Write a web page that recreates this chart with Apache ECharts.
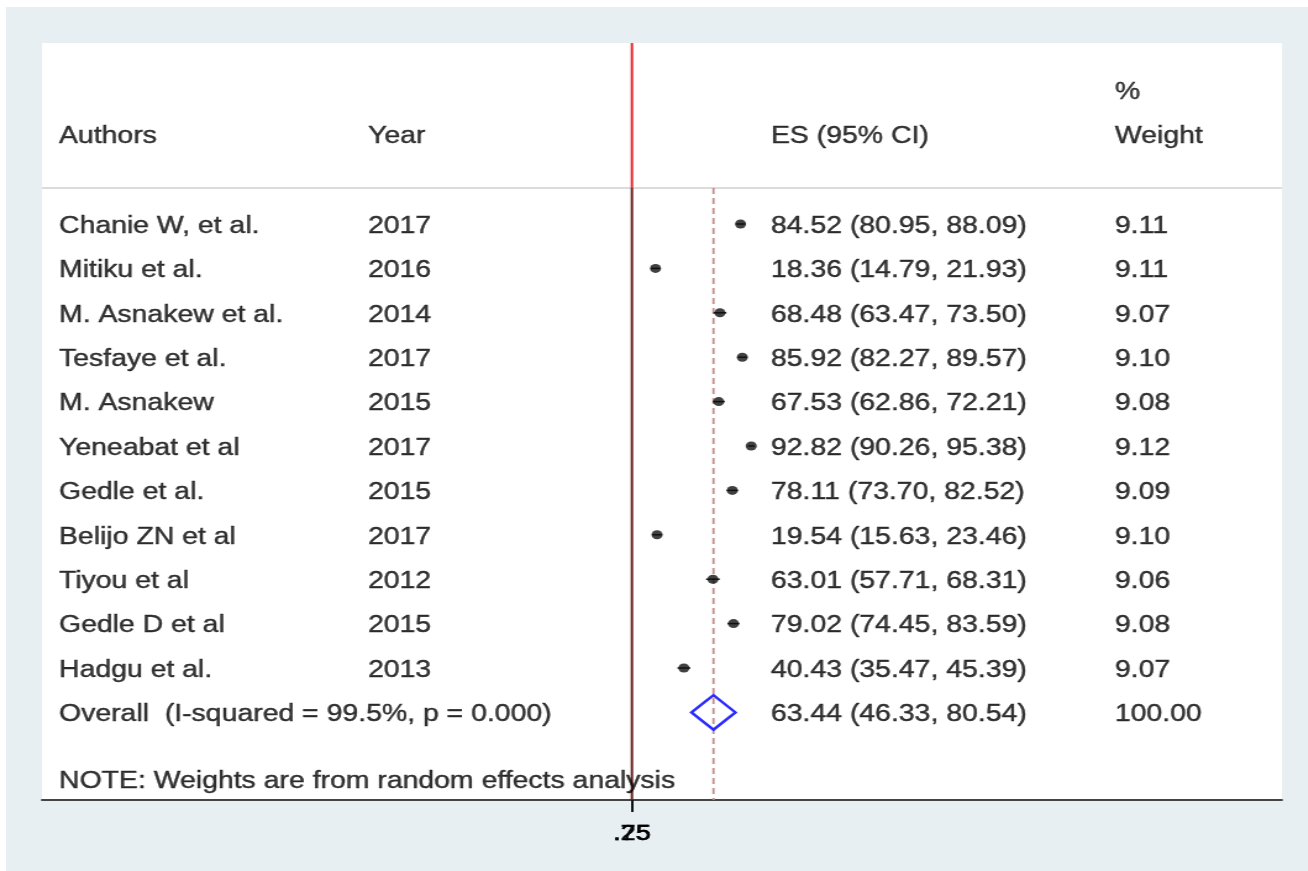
<!DOCTYPE html>
<html>
<head>
<meta charset="utf-8">
<script src="https://cdn.jsdelivr.net/npm/echarts@6/dist/echarts.min.js"></script>
<style>
  html, body { margin: 0; padding: 0; background: #fff; overflow: hidden; }
  #bg { position: absolute; left: 6px; top: 7px; width: 1302px; height: 864px; background: #e8eff2; }
  #chart { position: absolute; left: 0; top: 0; height: 871px; transform-origin: 0 0; }
</style>
</head>
<body>
<div id="bg"></div>
<div id="chart"></div>
<script>
// study rows
var authors = ["Chanie W, et al.", "Mitiku et al.", "M. Asnakew et al.", "Tesfaye et al.", "M. Asnakew",
  "Yeneabat et al", "Gedle et al.", "Belijo ZN et al", "Tiyou et al", "Gedle D et al", "Hadgu et al."];
var years = ["2017", "2016", "2014", "2017", "2015", "2017", "2015", "2017", "2012", "2015", "2013"];
var es = [84.52, 18.36, 68.48, 85.92, 67.53, 92.82, 78.11, 19.54, 63.01, 79.02, 40.43];
var ciLow = [80.95, 14.79, 63.47, 82.27, 62.86, 90.26, 73.70, 15.63, 57.71, 74.45, 35.47];
var ciHigh = [88.09, 21.93, 73.50, 89.57, 72.21, 95.38, 82.52, 23.46, 68.31, 83.59, 45.39];
var weights = [9.11, 9.11, 9.07, 9.10, 9.08, 9.12, 9.09, 9.10, 9.06, 9.08, 9.07];

// pooled estimate
var overallLabel = "Overall  (I-squared = 99.5%, p = 0.000)";
var overall = [63.44, 46.33, 80.54];
var overallWeight = 100.00;

var noteText = "NOTE: Weights are from random effects analysis";
var tickLabels = [".25", ".75"];

// the picture is stretched sideways, so draw narrow and stretch the div
var S = 1.235;
var FONT = "Liberation Sans, Arial, Helvetica, sans-serif";

// pixel helpers (final picture pixels -> axis units)
var X0 = 632, PXU = 1.285;
function toX(px) { return (px - X0) / PXU; }
var Y0 = 224, ROW = 44.4;
function toR(py) { return (py - Y0) / ROW; }

var xmin = toX(42), xmax = toX(1282);
var ymin = toR(43), ymax = toR(800);
var sepRow = toR(188);
var overallRow = authors.length;
var noteRow = toR(779);
var headRow = toR(134), pctRow = toR(90);

var el = document.getElementById('chart');
el.style.width = (1308 / S) + 'px';
el.style.transform = 'scaleX(' + S + ')';

var chart = echarts.init(el);

function textCol(xpx, items) {
  return {
    type: 'scatter',
    symbolSize: 0,
    silent: true,
    z: 10,
    data: items.map(function (it) { return { name: it[1], value: [toX(xpx), it[0]] }; }),
    label: {
      show: true, position: 'right', distance: 0, formatter: '{b}', offset: [0, 2.5],
      color: '#000', fontFamily: FONT, fontSize: 23, verticalAlign: 'middle',
      textBorderColor: '#000', textBorderWidth: 0.4
    }
  };
}

var authorCol = [[headRow, 'Authors']];
var yearCol = [[headRow, 'Year']];
var esCol = [[headRow, 'ES (95% CI)']];
var wCol = [[pctRow, '%'], [headRow, 'Weight']];
for (var i = 0; i < authors.length; i++) {
  authorCol.push([i, authors[i]]);
  yearCol.push([i, years[i]]);
  esCol.push([i, es[i].toFixed(2) + ' (' + ciLow[i].toFixed(2) + ', ' + ciHigh[i].toFixed(2) + ')']);
  wCol.push([i, weights[i].toFixed(2)]);
}
authorCol.push([overallRow, overallLabel]);
authorCol.push([noteRow, noteText]);
esCol.push([overallRow, overall[0].toFixed(2) + ' (' + overall[1].toFixed(2) + ', ' + overall[2].toFixed(2) + ')']);
wCol.push([overallRow, overallWeight.toFixed(2)]);

var ciData = es.map(function (v, i) { return [ciLow[i], ciHigh[i], i]; });
var dotData = es.map(function (v, i) { return [v, i]; });

function vline(x, y1, y2, color, width, type) {
  return {
    type: 'line', silent: true, symbol: 'none', z: 3,
    data: [[x, y1], [x, y2]],
    lineStyle: { color: color, width: width, type: type || 'solid' }
  };
}

var xLabelAxis = function (txt, main) {
  return {
    type: 'value', min: xmin, max: xmax, position: 'bottom',
    splitLine: { show: false },
    axisLine: { show: main, onZero: false, lineStyle: { color: '#444', width: 2 } },
    axisTick: { show: main, customValues: [0], length: 12, lineStyle: { color: '#111', width: 2 } },
    axisLabel: {
      customValues: [0], margin: 23, formatter: function () { return txt; },
      color: '#000', fontFamily: FONT, fontSize: 22,
      textBorderColor: '#000', textBorderWidth: 0.4
    }
  };
};

var option = {
  animation: false,
  grid: {
    left: 42 / S, right: 26 / S, top: 43, bottom: 71,
    show: true, backgroundColor: '#fff', borderWidth: 0
  },
  xAxis: [xLabelAxis(tickLabels[0], true), xLabelAxis(tickLabels[1], false)],
  yAxis: { type: 'value', inverse: true, min: ymin, max: ymax, show: false },
  series: [
    // header separator
    {
      type: 'line', silent: true, symbol: 'none', z: 2,
      data: [[xmin, sepRow], [xmax, sepRow]],
      lineStyle: { color: '#cfcfcf', width: 1.5 }
    },
    // null line
    vline(0, ymin, sepRow, '#e8262a', 2),
    vline(0, sepRow, ymax, '#6b1c1c', 2),
    // pooled estimate line
    vline(overall[0], sepRow, ymax, '#c48c8c', 1.8, [6, 4]),
    // confidence intervals
    {
      type: 'custom', silent: true, z: 4,
      data: ciData,
      renderItem: function (params, api) {
        var a = api.coord([api.value(0), api.value(2)]);
        var b = api.coord([api.value(1), api.value(2)]);
        return { type: 'line', shape: { x1: a[0], y1: a[1], x2: b[0], y2: b[1] }, style: { stroke: '#111', lineWidth: 1.5 } };
      }
    },
    // study estimates
    {
      type: 'scatter', silent: true, z: 5,
      symbol: 'circle', symbolSize: 9,
      itemStyle: { color: '#111' },
      data: dotData
    },
    // overall diamond
    {
      type: 'custom', silent: true, z: 5,
      data: [[overall[0], overall[1], overall[2], overallRow]],
      renderItem: function (params, api) {
        var r = api.value(3);
        var top = api.coord([api.value(0), r - 0.39]);
        var bot = api.coord([api.value(0), r + 0.39]);
        var l = api.coord([api.value(1), r]);
        var rt = api.coord([api.value(2), r]);
        return {
          type: 'polygon',
          shape: { points: [[l[0], l[1]], [top[0], top[1]], [rt[0], rt[1]], [bot[0], bot[1]]] },
          style: { fill: 'none', stroke: '#2a2aff', lineWidth: 2.4 }
        };
      }
    },
    textCol(59, authorCol),
    textCol(368, yearCol),
    textCol(771, esCol),
    textCol(1115, wCol)
  ]
};

chart.setOption(option);
</script>
</body>
</html>
